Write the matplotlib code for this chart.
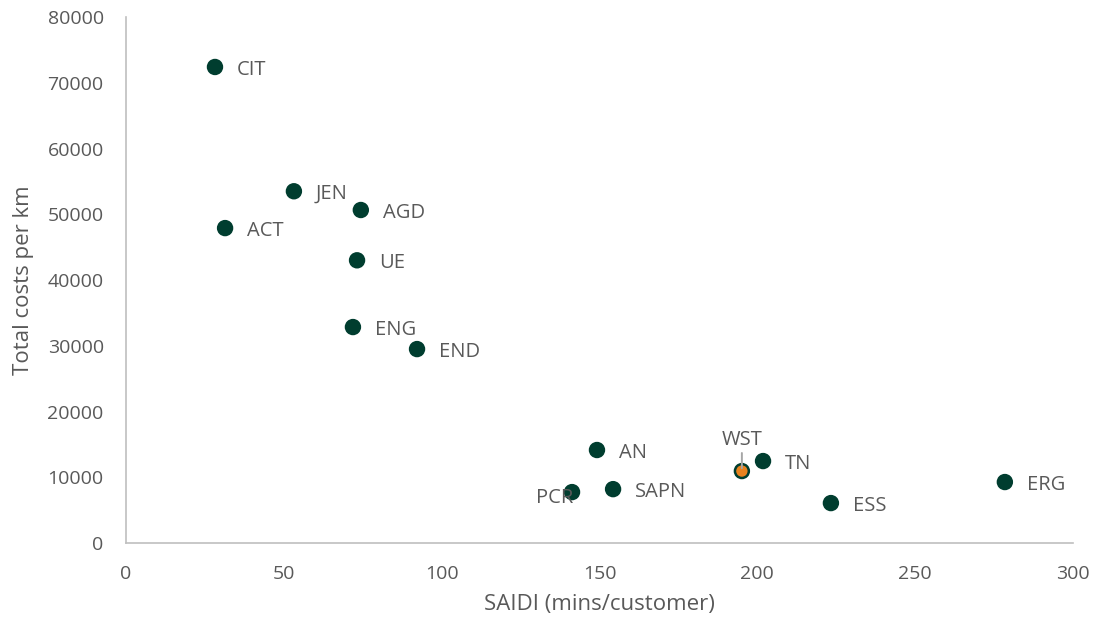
import matplotlib.pyplot as plt

plt.rcParams['font.family'] = ['Open Sans', 'DejaVu Sans']

# SAIDI vs total costs per km by distributor
names = ['CIT', 'ACT', 'JEN', 'AGD', 'UE', 'ENG', 'END',
         'AN', 'PCR', 'SAPN', 'WST', 'TN', 'ESS', 'ERG']
saidi = [28.2, 31.4, 53.2, 74.4, 73.2, 71.9, 92.2,
         149.2, 141.3, 154.3, 195.1, 201.8, 223.3, 278.4]
cost_per_km = [72400, 47900, 53500, 50650, 43000, 32850, 29500,
               14150, 7750, 8200, 10950, 12470, 6080, 9280]
highlight = 'WST'

green = '#003D2F'
orange = '#E8821E'
grey_text = '#595959'

fig = plt.figure(figsize=(11, 6.3), dpi=100)
ax = fig.add_axes([0.1145, 0.138, 0.861, 0.835])

colors = [orange if n == highlight else green for n in names]
ax.scatter(saidi, cost_per_km, s=100, c=colors, edgecolors=green,
           linewidths=1.8, zorder=3)

for n, x, y in zip(names, saidi, cost_per_km):
    if n == 'PCR':
        ax.annotate(n, (x, y), xytext=(1, -4), textcoords='offset points',
                    ha='right', va='center', fontsize=14.5, color=grey_text)
    elif n == highlight:
        # label sits above the point with a short leader line
        ax.annotate(n, (x, y), xytext=(0, 15), textcoords='offset points',
                    ha='center', va='bottom', fontsize=14.5, color=grey_text,
                    zorder=4,
                    arrowprops=dict(arrowstyle='-', color='#A6A6A6', lw=1.4,
                                    shrinkA=0, shrinkB=2))
    else:
        ax.annotate(n, (x, y), xytext=(16, -2), textcoords='offset points',
                    ha='left', va='center', fontsize=14.5, color=grey_text)

ax.set_xlim(0, 300)
ax.set_ylim(0, 80000)
ax.set_xticks(range(0, 301, 50))
ax.set_yticks(range(0, 80001, 10000))
ax.tick_params(length=0, labelsize=14, labelcolor=grey_text, pad=16)

for side in ['top', 'right']:
    ax.spines[side].set_visible(False)
for side in ['left', 'bottom']:
    ax.spines[side].set_color('#BFBFBF')
    ax.spines[side].set_linewidth(1.2)

ax.set_xlabel('SAIDI (mins/customer)', fontsize=16, color=grey_text, labelpad=8)
ax.set_ylabel('Total costs per km', fontsize=16, color=grey_text, labelpad=10)

fig.savefig('out.png', dpi=100)
